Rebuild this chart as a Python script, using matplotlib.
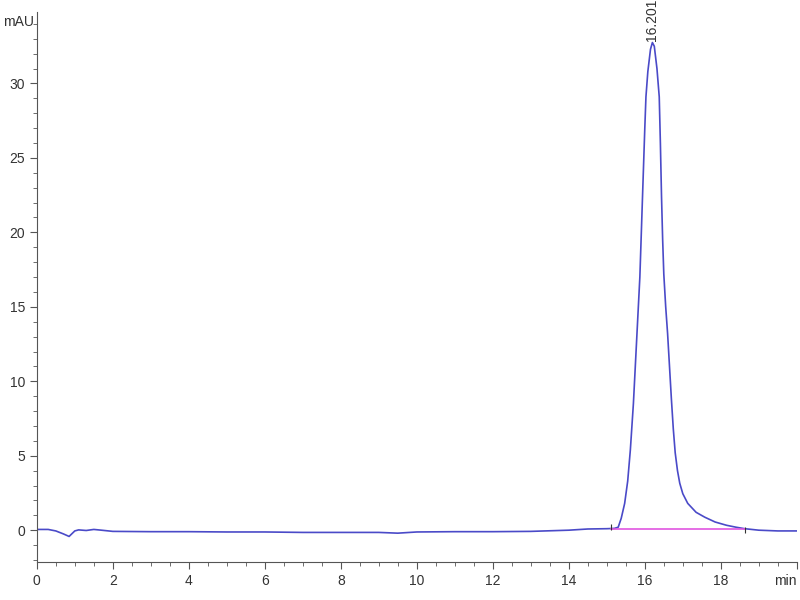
import matplotlib.pyplot as plt

# chromatogram trace (min, mAU)
time = [0.0, 0.3, 0.5, 0.7, 0.85, 1.0, 1.1, 1.3, 1.5, 1.7, 2.0, 3.0, 4.0, 5.0, 6.0,
        7.0, 8.0, 9.0, 9.5, 10.0, 11.0, 12.0, 13.0, 14.0, 14.5, 15.0, 15.2, 15.3,
        15.38, 15.47, 15.55, 15.62, 15.7, 15.78, 15.87, 15.94, 16.0, 16.03, 16.08,
        16.15, 16.2, 16.25, 16.32, 16.38, 16.41, 16.44, 16.47, 16.5, 16.55, 16.6,
        16.65, 16.7, 16.75, 16.8, 16.86, 16.92, 17.0, 17.13, 17.35, 17.58, 17.85,
        18.15, 18.4, 18.63, 19.0, 19.5, 20.0]
signal = [0.05, 0.05, -0.05, -0.25, -0.42, -0.05, 0.02, -0.02, 0.05, 0.0, -0.08, -0.1,
          -0.1, -0.12, -0.12, -0.15, -0.15, -0.15, -0.2, -0.12, -0.1, -0.1, -0.08, 0.0,
          0.08, 0.1, 0.12, 0.2, 0.8, 1.8, 3.3, 5.4, 8.5, 12.5, 17.0, 22.4, 27.0, 29.1,
          30.8, 32.3, 32.75, 32.5, 31.0, 29.1, 26.0, 22.4, 19.5, 17.2, 15.0, 13.2,
          11.0, 8.8, 6.8, 5.2, 4.0, 3.15, 2.45, 1.8, 1.2, 0.87, 0.55,
          0.33, 0.2, 0.1, 0.0, -0.05, -0.05]

peak_rt = 16.201
peak_height = 32.75
base_start, base_end = 15.1, 18.63
base_level = 0.1

fig = plt.figure(figsize=(8, 6), dpi=100)
ax = fig.add_axes([0.046, 0.063, 0.95, 0.917])

ax.plot(time, signal, color="#4a4ac8", lw=1.2)
ax.plot([base_start, base_end], [base_level, base_level], color="#e055e0", lw=1.2)
ax.plot([base_start, base_end], [base_level + 0.1, 0.0], ls="none", marker="|",
        color="#333333", ms=5, mew=0.8)

# peak label
ax.text(peak_rt, peak_height + 0.1, "16.201", rotation=90, ha="center", va="bottom",
        fontsize=10, color="#333333", family="Liberation Sans")

ax.set_xlim(0, 20)
ax.set_ylim(-2.15, 34.8)
for s in ["top", "right"]:
    ax.spines[s].set_visible(False)
for s in ["left", "bottom"]:
    ax.spines[s].set_color("#555555")

ax.set_xticks(range(0, 21, 2))
ax.set_xticklabels([str(v) for v in range(0, 20, 2)] + ["min"])
ax.set_xticks([v * 0.5 for v in range(41)], minor=True)
ax.set_yticks([0, 5, 10, 15, 20, 25, 30])
ax.set_yticks(range(-2, 35), minor=True)

ax.tick_params(axis="both", which="major", length=5, color="#555555",
               labelsize=10, labelcolor="#333333")
ax.tick_params(axis="both", which="minor", length=3, color="#555555")
for lbl in ax.get_xticklabels() + ax.get_yticklabels():
    lbl.set_family("Liberation Sans")
ax.get_xticklabels()[-1].set_horizontalalignment("right")

# unit label at the top of the y axis
fig.text(0.004, 1 - 22 / 600, "mAU", ha="left", va="center", fontsize=10,
         color="#333333", family="Liberation Sans")

plt.savefig("out.png", dpi=100)
